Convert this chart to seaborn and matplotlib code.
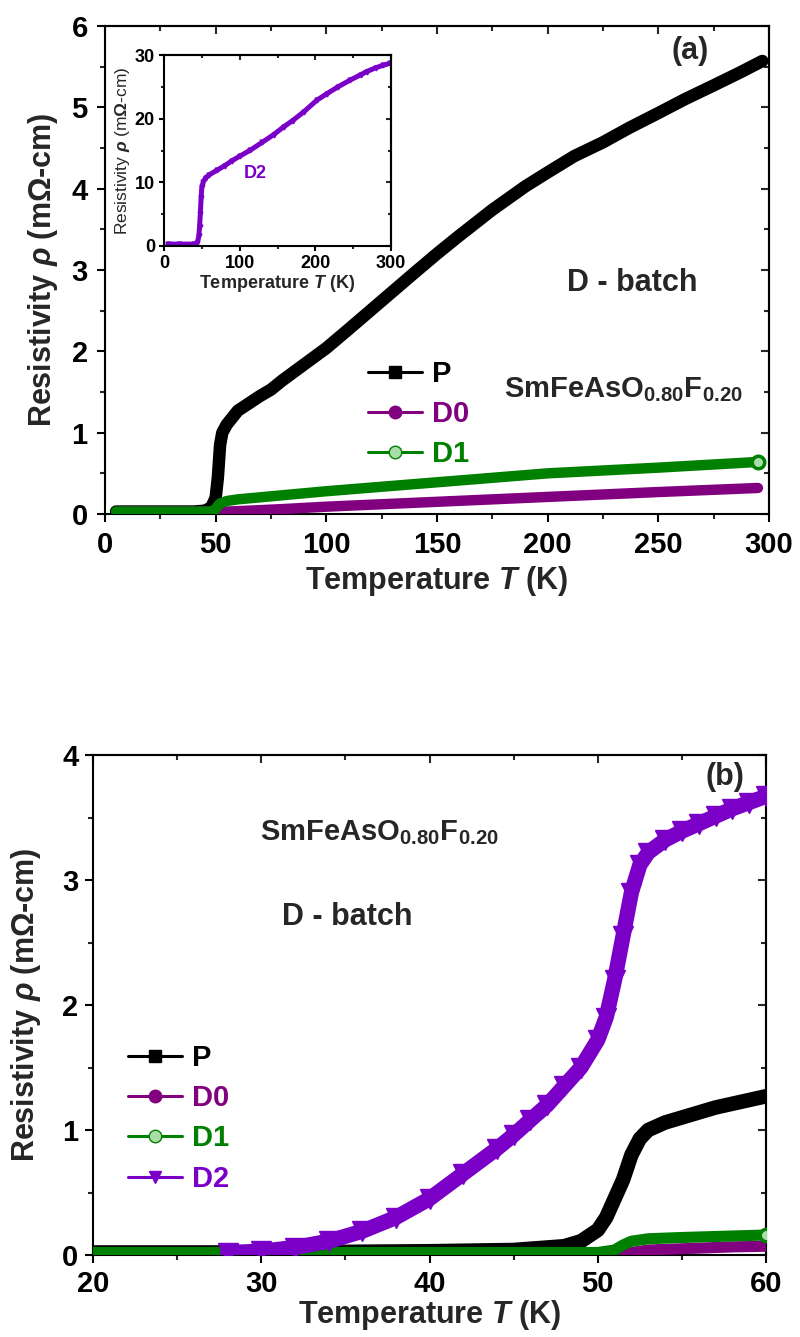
import numpy as np
import pandas as pd
import matplotlib
matplotlib.use("Agg")
import matplotlib.pyplot as plt
from matplotlib.lines import Line2D
from matplotlib.ticker import MultipleLocator
import seaborn as sns

# ---------------- data: panel (a), full temperature range ----------------
T_P_a = [5, 20, 40, 45, 48, 50, 51, 52, 53, 55, 60, 65, 70, 75, 80, 90, 100, 110,
         125, 140, 150, 160, 175, 190, 200, 212, 225, 237, 250, 262, 275, 287, 297]
rho_P_a = [0.03, 0.03, 0.03, 0.04, 0.08, 0.2, 0.45, 0.85, 1.0, 1.1, 1.27, 1.36, 1.45,
           1.53, 1.64, 1.84, 2.04, 2.27, 2.62, 2.97, 3.2, 3.42, 3.74, 4.03, 4.2, 4.4,
           4.57, 4.75, 4.93, 5.1, 5.27, 5.43, 5.57]

T_D0_a = [7, 20, 40, 45, 48, 50, 53, 55, 60, 80, 100, 150, 200, 250, 295]
rho_D0_a = [0.03, 0.03, 0.03, 0.03, 0.03, 0.02, 0.02, 0.03, 0.035, 0.06, 0.09, 0.15,
            0.21, 0.27, 0.32]

T_D1_a = [5, 20, 40, 48, 50, 51, 52, 55, 60, 100, 150, 200, 250, 295]
rho_D1_a = [0.03, 0.03, 0.03, 0.03, 0.06, 0.1, 0.13, 0.16, 0.18, 0.28, 0.39, 0.5,
            0.57, 0.64]

# inset: sample D2 over the full range
T_D2_in = [5, 20, 40, 44, 46, 47, 48, 49, 50, 52, 55, 60, 70, 80, 90, 100, 114, 130,
           145, 158, 170, 185, 202, 215, 230, 246, 260, 268, 280, 290, 299]
rho_D2_in = [0.3, 0.3, 0.3, 0.5, 1.5, 3.0, 5.0, 7.5, 9.3, 10.1, 10.7, 11.2, 11.9, 12.6,
             13.4, 14.1, 15.05, 16.3, 17.5, 18.7, 19.7, 21.1, 22.9, 23.9, 25.0, 26.06,
             26.9, 27.4, 28.0, 28.4, 28.7]

# ---------------- data: panel (b), transition region ----------------
T_P_b = [20, 30, 40, 45, 48, 49, 50, 50.5, 51, 51.5, 52, 52.5, 53, 54, 55, 56, 57, 58,
         59, 60]
rho_P_b = [0.02, 0.02, 0.03, 0.04, 0.07, 0.11, 0.2, 0.3, 0.45, 0.6, 0.8, 0.93, 1.0,
           1.06, 1.1, 1.14, 1.18, 1.21, 1.24, 1.27]

T_D0_b = [20, 30, 40, 51.5, 52, 53, 55, 58, 60]
rho_D0_b = [0.01, 0.01, 0.01, 0.01, 0.02, 0.04, 0.05, 0.065, 0.07]

T_D1_b = [20, 30, 40, 50, 51, 51.5, 52, 53, 55, 60]
rho_D1_b = [0.02, 0.02, 0.02, 0.02, 0.04, 0.08, 0.11, 0.13, 0.14, 0.16]

T_D2_b = [28, 30, 32, 34, 36, 38, 40, 42, 44, 45, 46, 47, 48, 49, 50, 50.5, 51, 51.5,
          52, 52.5, 53, 54, 55, 56, 57, 58, 59, 60]
rho_D2_b = [0.02, 0.03, 0.06, 0.11, 0.19, 0.3, 0.45, 0.65, 0.85, 0.96, 1.08, 1.2, 1.35,
            1.5, 1.72, 1.9, 2.2, 2.55, 2.9, 3.12, 3.22, 3.32, 3.39, 3.45, 3.51, 3.57,
            3.62, 3.67]

labels = ["P", "D0", "D1", "D2"]
colors = {"P": "#000000", "D0": "#800080", "D1": "#008000", "D2": "#7a00c8"}
markers = {"P": "s", "D0": "o", "D1": "o", "D2": "v"}
mfaces = {"P": "#000000", "D0": "#800080", "D1": "#a8dca8", "D2": "#7a00c8"}

sns.set_theme(style="ticks")
plt.rcParams["font.family"] = ["Liberation Sans", "DejaVu Sans"]
plt.rcParams["font.weight"] = "bold"
plt.rcParams["mathtext.fontset"] = "custom"
plt.rcParams["mathtext.rm"] = "Liberation Sans:bold"
plt.rcParams["mathtext.bf"] = "Liberation Sans:bold"
plt.rcParams["mathtext.it"] = "Liberation Sans:italic:bold"
plt.rcParams["mathtext.sf"] = "Liberation Sans:bold"

W, H = 800, 1337
fig = plt.figure(figsize=(W / 100, H / 100), dpi=100)


def frame(ax, xmaj, xmin, ymaj, ymin, fs, lw=1.5, L=5.5, pad=6):
    for s in ax.spines.values():
        s.set_linewidth(lw)
        s.set_color("black")
    ax.xaxis.set_major_locator(MultipleLocator(xmaj))
    ax.xaxis.set_minor_locator(MultipleLocator(xmin))
    ax.yaxis.set_major_locator(MultipleLocator(ymaj))
    ax.yaxis.set_minor_locator(MultipleLocator(ymin))
    ax.tick_params(which="major", direction="out", length=L, width=lw,
                   labelsize=fs, pad=pad, colors="black")
    ax.tick_params(which="minor", direction="out", length=L * 0.6, width=lw)
    for lab in ax.get_xticklabels() + ax.get_yticklabels():
        lab.set_fontweight("bold")
    # mirrored inward ticks on the top and right edges
    top = ax.secondary_xaxis("top")
    top.xaxis.set_major_locator(MultipleLocator(xmaj))
    top.xaxis.set_minor_locator(MultipleLocator(xmin))
    top.tick_params(which="major", direction="in", length=L, width=lw, labeltop=False)
    top.tick_params(which="minor", direction="in", length=L * 0.6, width=lw)
    top.spines["top"].set_linewidth(lw)
    right = ax.secondary_yaxis("right")
    right.yaxis.set_major_locator(MultipleLocator(ymaj))
    right.yaxis.set_minor_locator(MultipleLocator(ymin))
    right.tick_params(which="major", direction="in", length=L, width=lw, labelright=False)
    right.tick_params(which="minor", direction="in", length=L * 0.6, width=lw)
    right.spines["right"].set_linewidth(lw)


def band(ax, T, rho, key, lw, mark=False, ms=0, zo=2):
    df = pd.DataFrame({"T": T, "rho": rho})
    sns.lineplot(data=df, x="T", y="rho", ax=ax, color=colors[key], linewidth=lw,
                 sort=False, estimator=None, legend=False, zorder=zo,
                 solid_capstyle="round", solid_joinstyle="round")
    if mark:
        ax.plot(df["T"], df["rho"], linestyle="none", marker=markers[key],
                markersize=ms, color=colors[key], zorder=zo)


def handles(keys):
    return [Line2D([], [], color=colors[k], lw=2.2, marker=markers[k], markersize=9,
                   markerfacecolor=mfaces[k], markeredgecolor=colors[k]) for k in keys]


ylab = r"Resistivity $\rho$ (m$\Omega$-cm)"
xlab = r"Temperature $T$ (K)"

# ---------------- panel (a) ----------------
axa = fig.add_axes([105 / W, 1 - 514 / H, 664 / W, 488 / H])
band(axa, T_P_a, rho_P_a, "P", 9.0, zo=3)
band(axa, T_D0_a, rho_D0_a, "D0", 7.5, zo=4)
band(axa, T_D1_a, rho_D1_a, "D1", 7.5, zo=5)
axa.plot(T_D1_a[-1], rho_D1_a[-1], "o", ms=9, mfc=mfaces["D1"], mec=colors["D1"],
         mew=2.5, zorder=6)
axa.set_xlim(0, 300)
axa.set_ylim(0, 6)
frame(axa, 50, 25, 1, 0.5, 21, pad=7)
axa.set_xlabel(xlab, fontsize=22, fontweight="bold", labelpad=3)
axa.set_ylabel(ylab, fontsize=22, fontweight="bold", labelpad=8)
axa.text(0.881, 0.949, "(a)", transform=axa.transAxes, fontsize=22,
         fontweight="bold", ha="center", va="center")
axa.text(0.794, 0.473, "D - batch", transform=axa.transAxes, fontsize=22,
         fontweight="bold", ha="center", va="center")
axa.text(0.601, 0.24, r"SmFeAsO$_{\mathbf{0.80}}$F$_{\mathbf{0.20}}$",
         transform=axa.transAxes, fontsize=21, fontweight="bold", ha="left",
         va="baseline")
lega = axa.legend(handles(["P", "D0", "D1"]), ["P", "D0", "D1"],
                  loc="upper left", bbox_to_anchor=((368 - 105) / 664, (514 - 360) / 488),
                  frameon=False, fontsize=21, handlelength=1.85, handletextpad=0.35,
                  labelspacing=0.42, borderpad=0, borderaxespad=0,
                  prop={"weight": "bold", "size": 21})
for t, k in zip(lega.get_texts(), ["P", "D0", "D1"]):
    t.set_color(colors[k])

# inset with D2
axi = fig.add_axes([164 / W, 1 - 246 / H, 227 / W, 191 / H])
band(axi, T_D2_in, rho_D2_in, "D2", 3.6, mark=True, ms=3.5)
axi.set_xlim(0, 300)
axi.set_ylim(0, 30)
frame(axi, 100, 50, 10, 5, 13, lw=1.5, L=3.5, pad=3)
axi.set_xlabel(xlab, fontsize=13, fontweight="bold", labelpad=1)
axi.set_ylabel(ylab, fontsize=12.5, fontweight="normal", labelpad=2)
axi.text(0.40, 0.38, "D2", transform=axi.transAxes, fontsize=13, fontweight="bold",
         color=colors["D2"], ha="center", va="center")

# ---------------- panel (b) ----------------
axb = fig.add_axes([93 / W, 1 - 1255 / H, 673 / W, 500 / H])
band(axb, T_P_b, rho_P_b, "P", 10.5, zo=3)
band(axb, T_D0_b, rho_D0_b, "D0", 8.0, zo=4)
band(axb, T_D1_b, rho_D1_b, "D1", 8.0, zo=5)
band(axb, T_D2_b, rho_D2_b, "D2", 11.0, mark=True, ms=14, zo=6)
axb.plot(T_D1_b[-1], rho_D1_b[-1], "o", ms=9, mfc=mfaces["D1"], mec=colors["D1"],
         mew=2.5, zorder=7)
axb.set_xlim(20, 60)
axb.set_ylim(0, 4)
frame(axb, 10, 5, 1, 0.5, 21, pad=5)
axb.set_xlabel(xlab, fontsize=22, fontweight="bold", labelpad=0)
axb.set_ylabel(ylab, fontsize=22, fontweight="bold", labelpad=14)
axb.text(0.939, 0.956, "(b)", transform=axb.transAxes, fontsize=22,
         fontweight="bold", ha="center", va="center")
axb.text(0.378, 0.676, "D - batch", transform=axb.transAxes, fontsize=22,
         fontweight="bold", ha="center", va="center")
axb.text(0.248, 0.83, r"SmFeAsO$_{\mathbf{0.80}}$F$_{\mathbf{0.20}}$",
         transform=axb.transAxes, fontsize=21, fontweight="bold", ha="left",
         va="baseline")
legb = axb.legend(handles(labels), labels, loc="upper left",
                  bbox_to_anchor=((128 - 93) / 673, (1255 - 1044) / 500),
                  frameon=False, fontsize=21, handlelength=1.85, handletextpad=0.35,
                  labelspacing=0.42, borderpad=0, borderaxespad=0,
                  prop={"weight": "bold", "size": 21})
for t, k in zip(legb.get_texts(), labels):
    t.set_color(colors[k])

fig.savefig("out.png", dpi=100, facecolor="white")
